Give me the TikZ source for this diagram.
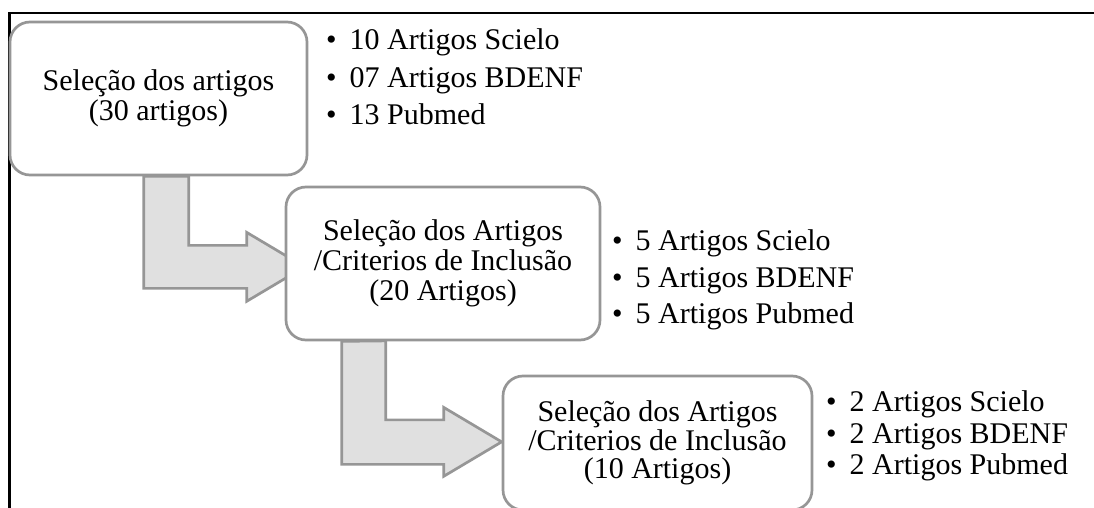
\documentclass[tikz,border=0pt]{standalone}
\usepackage{fontspec}
\setmainfont{Liberation Serif}
\usetikzlibrary{backgrounds,calc}
\definecolor{boxline}{RGB}{150,150,150}
\definecolor{arrowfill}{RGB}{224,224,224}
\tikzset{
  stepbox/.style={draw=boxline, line width=2.7pt, fill=white, rounded corners=20pt,
    inner sep=0pt, align=center, font=\fontsize{30}{30}\selectfont},
  bulletlist/.style={anchor=west, inner sep=0pt},
  bendarrow/.style={draw=boxline, line width=2.7pt, fill=arrowfill, line join=miter},
  frameline/.style={line width=2.5pt, black}
}
\newcommand{\blist}[3]{\begin{tabular}{@{}l@{\hspace{13pt}}l@{}}\textbullet & #1\\ \textbullet & #2\\ \textbullet & #3\end{tabular}}
\begin{document}
\begin{tikzpicture}[x=1pt,y=-1pt]
\useasboundingbox (0,0) rectangle (1094,508);
\coordinate (fa) at (9.5,508);
\coordinate (fb) at (9.5,12.8);
\coordinate (fc) at (1094,12.8);
\draw[frameline] (fa) -- (fb) -- (fc);

\node[stepbox, minimum width=297pt, minimum height=153pt] (b1) at (158.5,98.5) {Seleção dos artigos\\(30 artigos)};
\node[stepbox, minimum width=314pt, minimum height=153pt] (b2) at (443,263.5) {Seleção dos Artigos\\/Criterios de Inclusão\\(20 Artigos)};
\node[stepbox, minimum width=309pt, minimum height=134pt, font=\fontsize{30}{28.5}\selectfont] (b3) at (657.5,443) {Seleção dos Artigos\\/Criterios de Inclusão\\(10 Artigos)};

\node[bulletlist, font=\fontsize{30}{37.5}\selectfont] (l1) at (326,80) {\blist{10 Artigos Scielo}{07 Artigos BDENF}{13 Pubmed}};
\node[bulletlist, font=\fontsize{30}{36.5}\selectfont] (l2) at (612,280) {\blist{5 Artigos Scielo}{5 Artigos BDENF}{5 Artigos Pubmed}};
\node[bulletlist, font=\fontsize{30}{31.5}\selectfont] (l3) at (826,437) {\blist{2 Artigos Scielo}{2 Artigos BDENF}{2 Artigos Pubmed}};

\begin{pgfonlayer}{background}
\draw[bendarrow] ($(b1.south west)+(135,0)$) -- ++(0,112) -- ++(103,0) -- ++(0,13)
  -- ++(58,-34.5) -- ++(-58,-34.5) -- ++(0,13) -- ++(-58,0) -- ++(0,-69) -- cycle;
\draw[bendarrow] ($(b2.south west)+(57,0)$) -- ++(0,123) -- ++(102,0) -- ++(0,12)
  -- ++(58,-34.5) -- ++(-58,-34.5) -- ++(0,12.5) -- ++(-58,0) -- ++(0,-79) -- cycle;
\end{pgfonlayer}
\end{tikzpicture}
\end{document}
